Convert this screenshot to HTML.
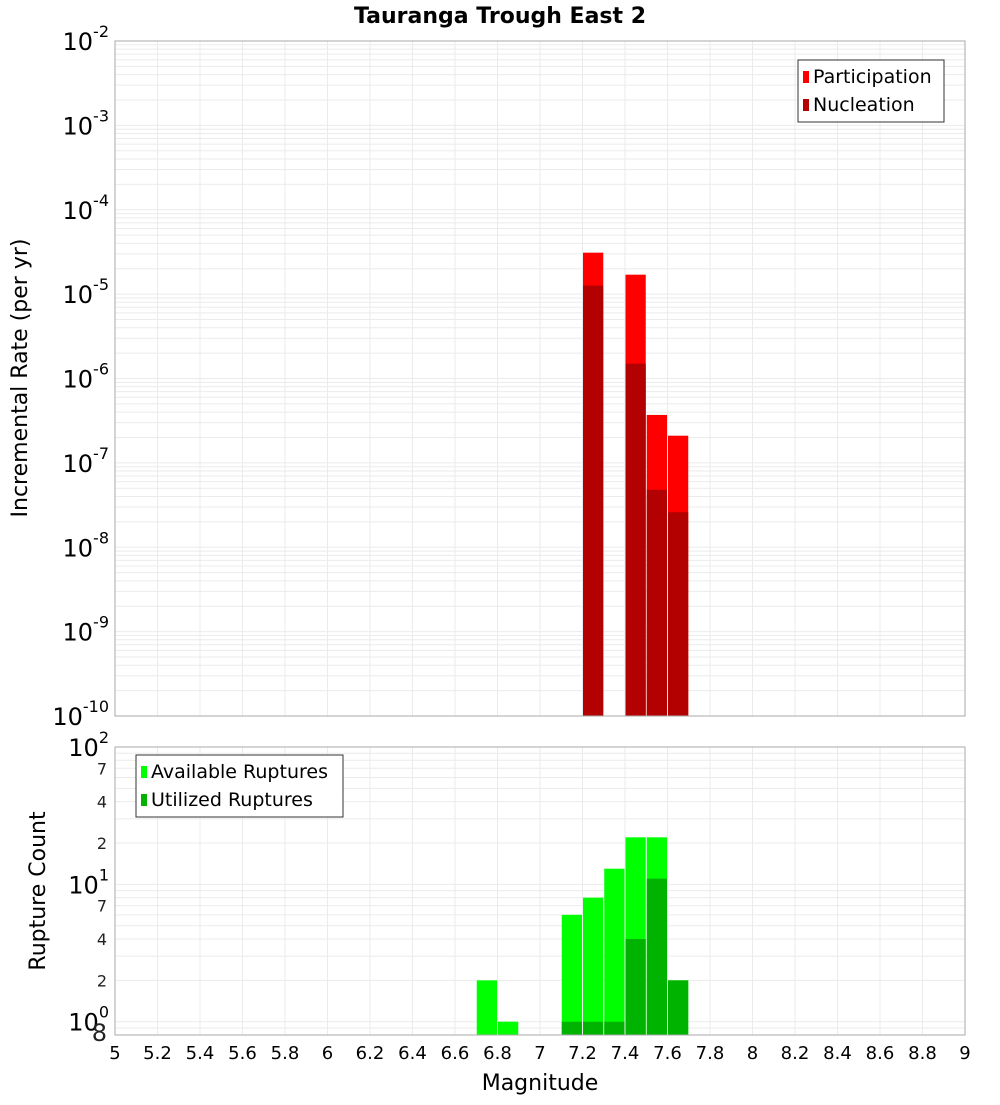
<!DOCTYPE html>
<html><head><meta charset="utf-8"><style>
body{margin:0;background:#fff}
svg text{font-family:"DejaVu Sans","Liberation Sans",sans-serif}
</style></head><body>
<svg id="c" width="1000" height="1100" xmlns="http://www.w3.org/2000/svg">
<text x="500" y="23" text-anchor="middle" font-size="22" font-weight="bold">Tauranga Trough East 2</text>
<g id="topg"></g>
<g id="botg"></g>
<text transform="translate(27,378) rotate(-90)" text-anchor="middle" font-size="22">Incremental Rate (per yr)</text>
<text transform="translate(45,891) rotate(-90)" text-anchor="middle" font-size="22">Rupture Count</text>
<text x="540" y="1090" text-anchor="middle" font-size="22">Magnitude</text>
</svg>
<script>
const mags=[7.25,7.45,7.55,7.65];
const participation=[3.1e-5,1.7e-5,3.7e-7,2.1e-7];
const nucleation=[1.26e-5,1.5e-6,4.8e-8,2.6e-8];
const countMags=[6.75,6.85,7.15,7.25,7.35,7.45,7.55,7.65];
const available=[2,1,6,8,13,22,22,2];
const utilized=[0,0,1,1,1,4,11,2];
const xTicks=[5,5.2,5.4,5.6,5.8,6,6.2,6.4,6.6,6.8,7,7.2,7.4,7.6,7.8,8,8.2,8.4,8.6,8.8,9];

const NS="http://www.w3.org/2000/svg";
function mk(p,t,a){const e=document.createElementNS(NS,t);for(const k in a)e.setAttribute(k,a[k]);p.appendChild(e);return e;}
const X0=115,X1=965;
const xs=m=>X0+(m-5)/(9-5)*(X1-X0);
const T0=41,T1=716, yT=v=>T0+(-2-Math.log10(v))/8*(T1-T0);
const B0=747,B1=1035, lo=Math.log10(0.8), yB=v=>B0+(2-Math.log10(v))/(2-lo)*(B1-B0);
const topG=document.getElementById('topg'),botG=document.getElementById('botg');
const svgEl=document.getElementById('c');

function grid(g,y0,y1,yf,dmin,dmax,minv){
  for(let d=dmin;d<dmax;d++)for(let k=1;k<=9;k++){const v=k*Math.pow(10,d);if(v<minv)continue;const y=yf(v);
    const l=mk(g,'line',{x1:X0,x2:X1,y1:y,y2:y,stroke:'#ebebeb','stroke-width':1});
    
    }
  xTicks.forEach(t=>{const x=xs(t);const l=mk(g,'line',{x1:x,x2:x,y1:y0,y2:y1,stroke:'#ebebeb','stroke-width':1});
    
    });
}
grid(topG,T0,T1,yT,-10,-2,1e-10);
grid(botG,B0,B1,yB,-1,2,0.8);

const bw=(X1-X0)/40-1;
mags.forEach((m,i)=>{
  const x=xs(m-0.05)+0.5;
  const a=mk(topG,'rect',{x:x,y:yT(participation[i]),width:bw,height:T1-yT(participation[i]),fill:'#ff0000'});
  
  
  const b=mk(topG,'rect',{x:x,y:yT(nucleation[i]),width:bw,height:T1-yT(nucleation[i]),fill:'#b30000'});
  
  
});
countMags.forEach((m,i)=>{
  const x=xs(m-0.05)+0.5;
  if(available[i]>0){const a=mk(botG,'rect',{x:x,y:yB(available[i]),width:bw,height:B1-yB(available[i]),fill:'#00ff00'});
  
  }
  if(utilized[i]>0){const b=mk(botG,'rect',{x:x,y:yB(utilized[i]),width:bw,height:B1-yB(utilized[i]),fill:'#00b300'});
  
  }
});
[[T0,T1],[B0,B1]].forEach(([a,b])=>{const r=mk(svgEl,'rect',{x:X0,y:a,width:X1-X0,height:b-a,fill:'none',stroke:'#aaa'});
  
  });

function pow10(y,e,name){const t=mk(svgEl,'text',{x:109,y:y+9,'text-anchor':'end','font-size':24});
  
  
  t.innerHTML='10<tspan font-size="16" dy="-13">'+e+'</tspan>';}
for(let d=-10;d<=-2;d++)pow10(yT(Math.pow(10,d)),d,'top-y-tick-label');
for(let d=0;d<=2;d++)pow10(yB(Math.pow(10,d)),d,'bottom-y-tick-label');
[[7,0],[4,0],[2,0],[2,1],[4,1],[7,1],[8,-1]].forEach(([k,d])=>{const v=k*Math.pow(10,d);
  const t=mk(svgEl,'text',{x:107,y:yB(v)+6,'text-anchor':'end','font-size':k==8?24:16,fill:'#222'});
  
  
  t.textContent=k;});
xTicks.forEach(t=>{const e=mk(svgEl,'text',{x:xs(t),y:1059,'text-anchor':'middle','font-size':18});
  
  
  e.textContent=String(t);});

function legend(x,y,w,items,name){const g=mk(svgEl,'g',{});
  
  
  mk(g,'rect',{x:x,y:y,width:w,height:items.length*28+6,fill:'#fff',stroke:'#333'});
  items.forEach(([c,l],i)=>{mk(g,'rect',{x:x+5,y:y+11+i*28,width:6,height:12,fill:c});
    const t=mk(g,'text',{x:x+15,y:y+23+i*28,'font-size':19});t.textContent=l;
    
    });}
legend(798,60,146,[['#ff0000','Participation'],['#b30000','Nucleation']],'top-legend');
legend(136,755,207,[['#00ff00','Available Ruptures'],['#00b300','Utilized Ruptures']],'bottom-legend');
</script>
</body></html>
